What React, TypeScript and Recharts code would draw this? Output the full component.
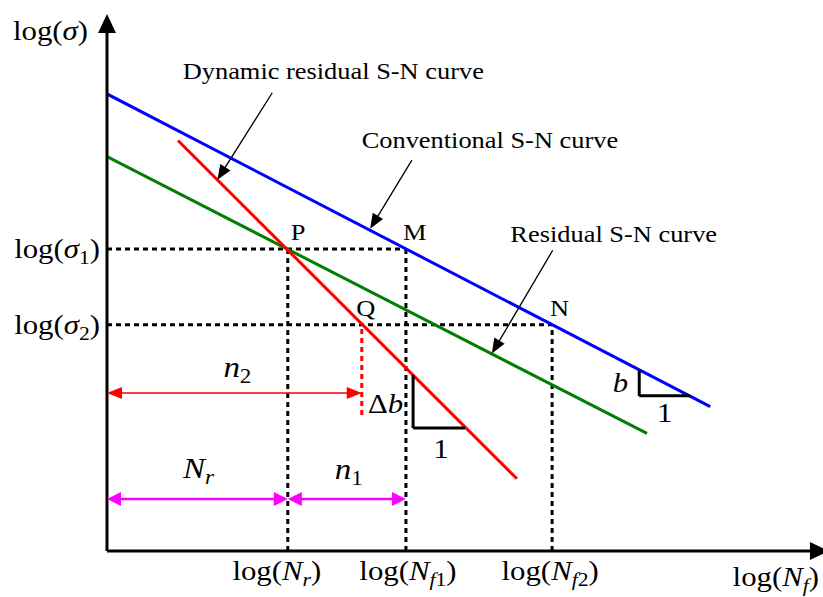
import React from 'react';
import { ComposedChart, Line, XAxis, YAxis, ReferenceLine, ReferenceDot } from 'recharts';

// log(N) positions
const logNr = 3.03;
const logNq = 4.27;
const logNf1 = 5.01;
const logNf2 = 7.46;
const logNmax = 12;
// log(sigma) levels
const logS1 = 5.06;
const logS2 = 3.79;
const logSmax = 9;

// S-N curves (two end points each)
const conventional = [{ x: 0, y: 7.66 }, { x: 10.11, y: 2.42 }];
const residual = [{ x: 0, y: 6.61 }, { x: 9.05, y: 1.97 }];
const dynamicResidual = [{ x: 1.19, y: 6.88 }, { x: 6.87, y: 1.21 }];

// slope triangles
const dynTriangle = { x0: 5.13, yTop: 2.95, yBot: 2.06, x1: 6.0 };
const convTriangle = { x0: 8.92, yTop: 3.03, yBot: 2.6, x1: 9.77 };

// helper levels
const n2Level = 2.65;
const nrLevel = 0.87;
const qDropEnd = 2.28;

// callouts: tail -> tip
const callouts = [
  { name: 'Dynamic residual S-N curve', tail: { x: 2.77, y: 7.68 }, tip: { x: 1.85, y: 6.22 }, dx: 61, dy: -14 },
  { name: 'Conventional S-N curve', tail: { x: 5.11, y: 6.55 }, tip: { x: 4.41, y: 5.4 }, dx: 78, dy: -12 },
  { name: 'Residual S-N curve', tail: { x: 7.47, y: 5.04 }, tip: { x: 6.45, y: 3.31 }, dx: 61, dy: -8 },
];

const FONT = "'Liberation Serif', 'Times New Roman', Times, serif";
const STRETCH = 1.1;

const arrow = (color: string, width: number, start: boolean, end: boolean, len = 15, half = 6, dash?: string) =>
  (p: any) => {
    const { x1, y1, x2, y2 } = p;
    const L = Math.hypot(x2 - x1, y2 - y1) || 1;
    const ux = (x2 - x1) / L;
    const uy = (y2 - y1) / L;
    const head = (tx: number, ty: number, dir: number) => {
      const bx = tx - dir * ux * len;
      const by = ty - dir * uy * len;
      return `${tx},${ty} ${bx - uy * half},${by + ux * half} ${bx + uy * half},${by - ux * half}`;
    };
    const sx = start ? x1 + ux * len * 0.8 : x1;
    const sy = start ? y1 + uy * len * 0.8 : y1;
    const ex = end ? x2 - ux * len * 0.8 : x2;
    const ey = end ? y2 - uy * len * 0.8 : y2;
    return (
      <g>
        <line x1={sx} y1={sy} x2={ex} y2={ey} stroke={color} strokeWidth={width} strokeDasharray={dash} />
        {start && <polygon points={head(x1, y1, -1)} fill={color} />}
        {end && <polygon points={head(x2, y2, 1)} fill={color} />}
      </g>
    );
  };

const txt = (dx: number, dy: number, anchor: string, size: number, content: React.ReactNode) =>
  (p: any) => (
    <text
      transform={`translate(${p.cx + dx},${p.cy + dy}) scale(${STRETCH},1)`}
      textAnchor={anchor}
      fontSize={size}
      style={{ fontFamily: FONT }}
      fill="#000"
    >
      {content}
    </text>
  );

const sub = (size: number) => ({ fontSize: size * 0.7 });

const logOf = (sym: string, subs: React.ReactNode[], size: number) => (
  <>
    <tspan>log(</tspan>
    <tspan fontStyle="italic">{sym}</tspan>
    {subs.length > 0 && React.Children.map(subs, (s, i) =>
      i === 0 ? <tspan dy={size * 0.22} {...sub(size)}>{s}</tspan> : <tspan {...sub(size)}>{s}</tspan>
    )}
    <tspan dy={subs.length > 0 ? -size * 0.22 : 0}>)</tspan>
  </>
);

const dashed = { stroke: '#000', strokeWidth: 3, strokeDasharray: '5 4', ifOverflow: 'visible' as const };

export default function App() {
  const M = 28;
  return (
    <div style={{ position: 'absolute', left: 0, top: 0, background: '#fff' }}>
      <ComposedChart width={823} height={597} margin={{ top: 14, right: 0, bottom: 46, left: 107 }}>
        <XAxis type="number" dataKey="x" domain={[0, logNmax]} hide allowDataOverflow />
        <YAxis type="number" dataKey="y" domain={[0, logSmax]} hide allowDataOverflow />

        {/* dashed guides */}
        <ReferenceLine segment={[{ x: 0, y: logS1 }, { x: logNf1, y: logS1 }]} {...dashed} />
        <ReferenceLine segment={[{ x: 0, y: logS2 }, { x: logNf2, y: logS2 }]} {...dashed} />
        <ReferenceLine segment={[{ x: logNr, y: 0 }, { x: logNr, y: logS1 }]} {...dashed} />
        <ReferenceLine segment={[{ x: logNf1, y: 0 }, { x: logNf1, y: logS1 }]} {...dashed} />
        <ReferenceLine segment={[{ x: logNf2, y: 0 }, { x: logNf2, y: logS2 }]} {...dashed} />
        <ReferenceLine segment={[{ x: logNq, y: qDropEnd }, { x: logNq, y: logS2 }]} {...dashed} stroke="#ff0000" />

        <Line data={conventional} dataKey="y" type="linear" stroke="#0000ff" strokeWidth={3} dot={false} isAnimationActive={false} />
        <Line data={residual} dataKey="y" type="linear" stroke="#008000" strokeWidth={3} dot={false} isAnimationActive={false} />
        <Line data={dynamicResidual} dataKey="y" type="linear" stroke="#ff0000" strokeWidth={3} dot={false} isAnimationActive={false} />

        {/* axes */}
        <ReferenceLine ifOverflow="visible" segment={[{ x: 0, y: 0 }, { x: 0, y: logSmax }]} shape={arrow('#000', 3, false, true, 19, 9)} />
        <ReferenceLine ifOverflow="visible" segment={[{ x: 0, y: 0 }, { x: logNmax + 0.1, y: 0 }]} shape={arrow('#000', 3, false, true, 19, 9)} />

        {/* slope triangles */}
        <ReferenceLine ifOverflow="visible" segment={[{ x: dynTriangle.x0, y: dynTriangle.yTop }, { x: dynTriangle.x0, y: dynTriangle.yBot }]} stroke="#000" strokeWidth={3} />
        <ReferenceLine ifOverflow="visible" segment={[{ x: dynTriangle.x0, y: dynTriangle.yBot }, { x: dynTriangle.x1, y: dynTriangle.yBot }]} stroke="#000" strokeWidth={3} />
        <ReferenceLine ifOverflow="visible" segment={[{ x: convTriangle.x0, y: convTriangle.yTop }, { x: convTriangle.x0, y: convTriangle.yBot }]} stroke="#000" strokeWidth={3} />
        <ReferenceLine ifOverflow="visible" segment={[{ x: convTriangle.x0, y: convTriangle.yBot }, { x: convTriangle.x1, y: convTriangle.yBot }]} stroke="#000" strokeWidth={3} />

        {/* span arrows */}
        <ReferenceLine ifOverflow="visible" segment={[{ x: 0, y: n2Level }, { x: logNq, y: n2Level }]} shape={arrow('#ff0000', 1.5, true, true, 15, 6)} />
        <ReferenceLine ifOverflow="visible" segment={[{ x: 0, y: nrLevel }, { x: logNr, y: nrLevel }]} shape={arrow('#ff00ff', 2.5, true, true, 14, 7)} />
        <ReferenceLine ifOverflow="visible" segment={[{ x: logNr, y: nrLevel }, { x: logNf1, y: nrLevel }]} shape={arrow('#ff00ff', 2.5, true, true, 14, 7)} />

        {/* callouts */}
        {callouts.map((c) => (
          <ReferenceLine key={c.name} ifOverflow="visible" segment={[c.tail, c.tip]} shape={arrow('#000', 1.3, false, true, 15, 6)} />
        ))}
        {callouts.map((c) => (
          <ReferenceDot key={'t' + c.name} x={c.tail.x} y={c.tail.y} r={0} ifOverflow="visible" shape={txt(c.dx, c.dy, 'middle', 24, c.name)} />
        ))}

        {/* point labels */}
        <ReferenceDot x={logNr} y={logS1} r={0} ifOverflow="visible" shape={txt(3, -9, 'start', 24, 'P')} />
        <ReferenceDot x={logNf1} y={logS1} r={0} ifOverflow="visible" shape={txt(-3, -9, 'start', 24, 'M')} />
        <ReferenceDot x={logNq} y={logS2} r={0} ifOverflow="visible" shape={txt(4, -9, 'middle', 24, 'Q')} />
        <ReferenceDot x={logNf2} y={logS2} r={0} ifOverflow="visible" shape={txt(-2, -9, 'start', 24, 'N')} />

        {/* axis labels */}
        <ReferenceDot x={0} y={logSmax} r={0} ifOverflow="visible" shape={txt(-19, 26, 'end', M, logOf('σ', [], M))} />
        <ReferenceDot x={0} y={logS1} r={0} ifOverflow="visible" shape={txt(-7, 9, 'end', M, logOf('σ', ['1'], M))} />
        <ReferenceDot x={0} y={logS2} r={0} ifOverflow="visible" shape={txt(-7, 9, 'end', M, logOf('σ', ['2'], M))} />
        <ReferenceDot x={logNr} y={0} r={0} ifOverflow="visible" shape={txt(-11, 29, 'middle', M, logOf('N', [<tspan key="r" fontStyle="italic">r</tspan>], M))} />
        <ReferenceDot x={logNf1} y={0} r={0} ifOverflow="visible" shape={txt(2, 29, 'middle', M, logOf('N', [<tspan key="f" fontStyle="italic">f</tspan>, '1'], M))} />
        <ReferenceDot x={logNf2} y={0} r={0} ifOverflow="visible" shape={txt(-2, 29, 'middle', M, logOf('N', [<tspan key="f" fontStyle="italic">f</tspan>, '2'], M))} />
        <ReferenceDot x={logNmax} y={0} r={0} ifOverflow="visible" shape={txt(-4, 35, 'end', M, logOf('N', [<tspan key="f" fontStyle="italic">f</tspan>], M))} />

        {/* span labels */}
        <ReferenceDot x={logNq / 2} y={n2Level} r={0} ifOverflow="visible" shape={txt(3, -16, 'middle', 30, <><tspan fontStyle="italic">n</tspan><tspan dy={6} fontSize={21}>2</tspan></>)} />
        <ReferenceDot x={logNr / 2} y={nrLevel} r={0} ifOverflow="visible" shape={txt(1, -21, 'middle', 30, <><tspan fontStyle="italic">N</tspan><tspan dy={6} fontSize={21} fontStyle="italic">r</tspan></>)} />
        <ReferenceDot x={(logNr + logNf1) / 2} y={nrLevel} r={0} ifOverflow="visible" shape={txt(2, -20, 'middle', 30, <><tspan fontStyle="italic">n</tspan><tspan dy={6} fontSize={21}>1</tspan></>)} />

        {/* slope labels */}
        <ReferenceDot x={dynTriangle.x0} y={dynTriangle.yBot} r={0} ifOverflow="visible" shape={txt(-10, -15, 'end', 28, <><tspan>Δ</tspan><tspan fontStyle="italic">b</tspan></>)} />
        <ReferenceDot x={(dynTriangle.x0 + dynTriangle.x1) / 2} y={dynTriangle.yBot} r={0} ifOverflow="visible" shape={txt(2, 30, 'middle', 28, '1')} />
        <ReferenceDot x={convTriangle.x0} y={convTriangle.yBot} r={0} ifOverflow="visible" shape={txt(-11, -4, 'end', 28, <tspan fontStyle="italic">b</tspan>)} />
        <ReferenceDot x={(convTriangle.x0 + convTriangle.x1) / 2} y={convTriangle.yBot} r={0} ifOverflow="visible" shape={txt(0, 26, 'middle', 28, '1')} />
      </ComposedChart>
    </div>
  );
}
